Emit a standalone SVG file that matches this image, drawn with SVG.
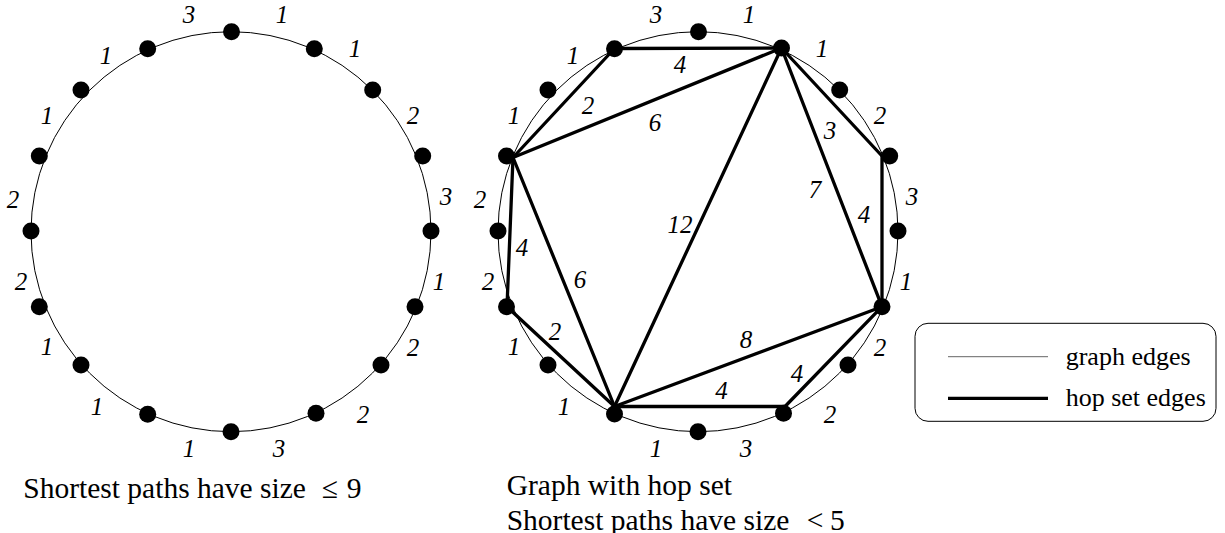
<svg xmlns="http://www.w3.org/2000/svg" width="1225" height="533" viewBox="0 0 1225 533">
<defs>
<style>
.ring{fill:none;stroke:#000;stroke-width:1}
.dot{fill:#000}
.hop{stroke:#000;stroke-width:3.3;stroke-linecap:round;fill:none}
.lbl{font-family:"Liberation Serif","Times New Roman","DejaVu Serif",serif;font-style:italic;font-size:25px;text-anchor:middle;fill:#000}
.cap{font-family:"Liberation Serif","Times New Roman","DejaVu Serif",serif;font-size:29.5px;fill:#000}
.leg{font-family:"Liberation Serif","Times New Roman","DejaVu Serif",serif;font-size:26px;fill:#000}
</style>
</defs>
<rect width="1225" height="533" fill="#fff"/>

<g id="left-graph">
<circle class="ring" cx="231" cy="231.7" r="200"/>
<g id="left-nodes">
<circle class="dot" cx="231.5" cy="31.7" r="8.5"/>
<circle class="dot" cx="147.7" cy="48.7" r="8.5"/>
<circle class="dot" cx="314.3" cy="48.7" r="8.5"/>
<circle class="dot" cx="81" cy="90" r="8.5"/>
<circle class="dot" cx="372.7" cy="90" r="8.5"/>
<circle class="dot" cx="39.3" cy="156" r="8.5"/>
<circle class="dot" cx="422.7" cy="156" r="8.5"/>
<circle class="dot" cx="31" cy="231" r="8.5"/>
<circle class="dot" cx="431" cy="231" r="8.5"/>
<circle class="dot" cx="39.3" cy="306.7" r="8.5"/>
<circle class="dot" cx="415" cy="306.7" r="8.5"/>
<circle class="dot" cx="81" cy="365" r="8.5"/>
<circle class="dot" cx="381" cy="365" r="8.5"/>
<circle class="dot" cx="147.7" cy="414.3" r="8.5"/>
<circle class="dot" cx="316" cy="413.3" r="8.5"/>
<circle class="dot" cx="231" cy="431.7" r="8.5"/>
</g>
<g id="left-labels">
<text class="lbl" x="189" y="22.5">3</text>
<text class="lbl" x="282" y="22.5">1</text>
<text class="lbl" x="106" y="63.5">1</text>
<text class="lbl" x="355" y="57">1</text>
<text class="lbl" x="47" y="123.5">1</text>
<text class="lbl" x="413" y="123.5">2</text>
<text class="lbl" x="13" y="208.3">2</text>
<text class="lbl" x="446" y="205.3">3</text>
<text class="lbl" x="21" y="290.3">2</text>
<text class="lbl" x="439" y="289.5">1</text>
<text class="lbl" x="47" y="355.3">1</text>
<text class="lbl" x="413" y="356.3">2</text>
<text class="lbl" x="97" y="414.5">1</text>
<text class="lbl" x="363" y="422.5">2</text>
<text class="lbl" x="189" y="456.5">1</text>
<text class="lbl" x="279" y="456.5">3</text>
</g>
<text class="cap" y="498.3"><tspan x="23.3">Shortest paths have size</tspan><tspan x="321.7">≤</tspan><tspan x="346.7">9</tspan></text>
</g>

<g id="right-graph">
<circle class="ring" cx="698" cy="231.7" r="200"/>
<g id="hop-edges">
<line class="hop" x1="614.5" y1="48.5" x2="781.5" y2="48"/>
<line class="hop" x1="614.5" y1="48.5" x2="513" y2="157.5"/>
<line class="hop" x1="781.5" y1="48" x2="513" y2="157.5"/>
<line class="hop" x1="781.5" y1="48" x2="614.5" y2="406.5"/>
<line class="hop" x1="781.5" y1="48" x2="882" y2="156"/>
<line class="hop" x1="781.5" y1="48" x2="882" y2="306.7"/>
<line class="hop" x1="882" y1="156" x2="882" y2="306.7"/>
<line class="hop" x1="513" y1="157.5" x2="507" y2="306.7"/>
<line class="hop" x1="513" y1="157.5" x2="614.5" y2="406.5"/>
<line class="hop" x1="507" y1="306.7" x2="614.5" y2="406.5"/>
<line class="hop" x1="614.5" y1="406.5" x2="882" y2="306.7"/>
<line class="hop" x1="614.5" y1="406.5" x2="785" y2="406.5"/>
<line class="hop" x1="785" y1="406.5" x2="882" y2="306.7"/>
</g>
<g id="right-nodes">
<circle class="dot" cx="698.5" cy="31.7" r="8.5"/>
<circle class="dot" cx="614.5" cy="48.7" r="8.5"/>
<circle class="dot" cx="781.5" cy="48" r="8.5"/>
<circle class="dot" cx="548" cy="90" r="8.5"/>
<circle class="dot" cx="839.7" cy="90" r="8.5"/>
<circle class="dot" cx="506.5" cy="156" r="8.5"/>
<circle class="dot" cx="889.7" cy="156" r="8.5"/>
<circle class="dot" cx="498" cy="231" r="8.5"/>
<circle class="dot" cx="898" cy="231" r="8.5"/>
<circle class="dot" cx="506.5" cy="306.7" r="8.5"/>
<circle class="dot" cx="882" cy="306.7" r="8.5"/>
<circle class="dot" cx="548" cy="365" r="8.5"/>
<circle class="dot" cx="848" cy="365" r="8.5"/>
<circle class="dot" cx="614.5" cy="414" r="8.5"/>
<circle class="dot" cx="783.5" cy="413.3" r="8.5"/>
<circle class="dot" cx="698" cy="431.7" r="8.5"/>
</g>
<g id="right-labels">
<text class="lbl" x="656" y="22.5">3</text>
<text class="lbl" x="749" y="22.5">1</text>
<text class="lbl" x="573" y="63.5">1</text>
<text class="lbl" x="822" y="57">1</text>
<text class="lbl" x="514" y="123.5">1</text>
<text class="lbl" x="880" y="123.5">2</text>
<text class="lbl" x="480" y="208.3">2</text>
<text class="lbl" x="912" y="205.3">3</text>
<text class="lbl" x="488" y="290.3">2</text>
<text class="lbl" x="906" y="289.5">1</text>
<text class="lbl" x="514" y="355.3">1</text>
<text class="lbl" x="880" y="356.3">2</text>
<text class="lbl" x="564" y="414.5">1</text>
<text class="lbl" x="830" y="422.5">2</text>
<text class="lbl" x="656" y="456.5">1</text>
<text class="lbl" x="746" y="456.5">3</text>
</g>
<g id="hop-labels">
<text class="lbl" x="680" y="73.3">4</text>
<text class="lbl" x="588" y="114.3">2</text>
<text class="lbl" x="655" y="131.3">6</text>
<text class="lbl" x="680" y="232.7">12</text>
<text class="lbl" x="815" y="197.5">7</text>
<text class="lbl" x="830" y="139.3">3</text>
<text class="lbl" x="864" y="223.3">4</text>
<text class="lbl" x="522" y="256.3">4</text>
<text class="lbl" x="580" y="288.3">6</text>
<text class="lbl" x="555" y="340.3">2</text>
<text class="lbl" x="746" y="348.3">8</text>
<text class="lbl" x="721.5" y="399">4</text>
<text class="lbl" x="797" y="382.3">4</text>
</g>
<text class="cap" x="506.7" y="494.5">Graph with hop set</text>
<text class="cap" y="530"><tspan x="506.7">Shortest paths have size</tspan><tspan x="806.7">&lt;</tspan><tspan x="830">5</tspan></text>
</g>

<g id="legend">
<rect x="915" y="323.3" width="301" height="98" rx="13" ry="13" fill="none" stroke="#000" stroke-width="1"/>
<line x1="948" y1="356.7" x2="1048" y2="356.7" stroke="#666" stroke-width="1"/>
<line x1="948" y1="398.3" x2="1048" y2="398.3" stroke="#000" stroke-width="3.3"/>
<text class="leg" x="1065.7" y="365">graph edges</text>
<text class="leg" x="1065.7" y="406">hop set edges</text>
</g>
</svg>
